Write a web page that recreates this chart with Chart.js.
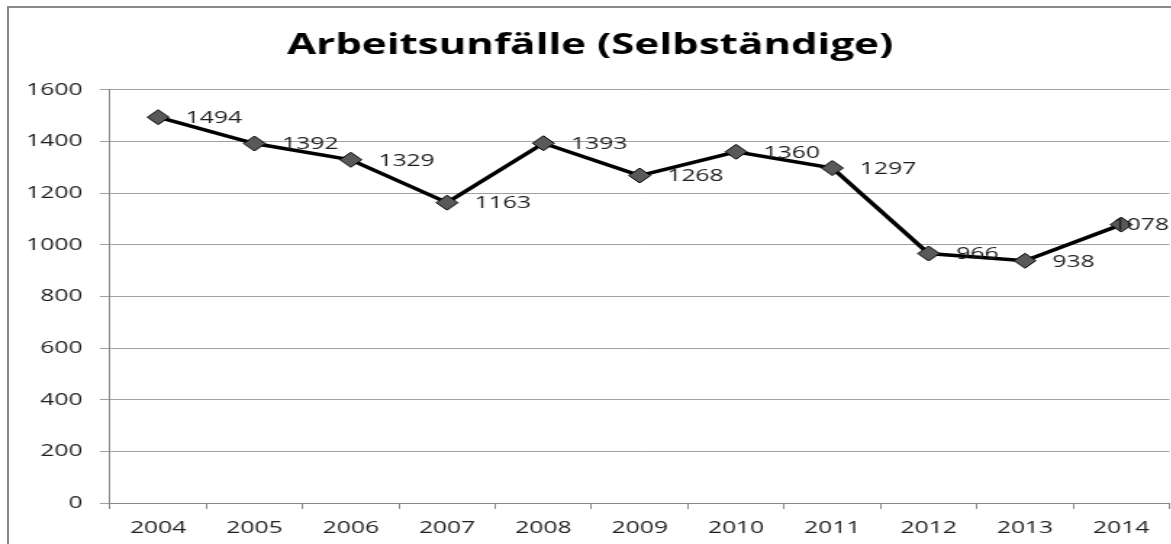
<!DOCTYPE html>
<html lang="de">
<head>
<meta charset="utf-8">
<title>Arbeitsunfälle (Selbständige)</title>
<script src="https://cdn.jsdelivr.net/npm/chart.js@4/dist/chart.umd.min.js"></script>
<style>
    html, body { margin: 0; padding: 0; background: #ffffff; }
    #viewport { position: relative; width: 1171px; height: 544px; overflow: hidden; }
    /* Rahmen des Diagrammobjekts (rechts und unten abgeschnitten) */
    #frame {
        position: absolute; left: 7px; top: 6px; width: 1300px; height: 700px;
        border-left: 2px solid #8a8a8a; border-top: 2px solid #8a8a8a;
    }
    /* Das Original ist horizontal gestreckt – wir strecken die ganze Zeichenfläche */
    #stretch {
        position: absolute; left: 0; top: 0; width: 815px; height: 544px;
        transform: scaleX(1.45); transform-origin: 0 0;
    }
</style>
</head>
<body>
<div id="viewport">
    <div id="frame"></div>
    <div id="stretch"><canvas id="chart-unfaelle"></canvas></div>
</div>
<script>
// ─────────────────────────────────────────────────────────────────────────────
// Daten
// ─────────────────────────────────────────────────────────────────────────────
const YEARS  = ['2004', '2005', '2006', '2007', '2008', '2009', '2010', '2011', '2012', '2013', '2014'];
const VALUES = [1494, 1392, 1329, 1163, 1393, 1268, 1360, 1297, 966, 938, 1078];
const Y_MIN  = 0;
const Y_MAX  = 1600;
const Y_STEP = 200;

const STRETCH     = 1.45;
const FONT        = '"Open Sans", "DejaVu Sans", sans-serif';
const TEXT_COLOR  = '#1e1e1e';
const GRID_COLOR  = '#a0a0a0';
const AXIS_COLOR  = '#8a8a8a';

// Plugin: Wertbeschriftung rechts neben jedem Punkt
const valueLabelsPlugin = {
    id: 'valueLabels',
    afterDatasetsDraw(chart) {
        const { ctx } = chart;
        const dataset = chart.data.datasets[0];
        const meta    = chart.getDatasetMeta(0);
        // sichtbarer rechter Rand (Viewport schneidet ab)
        const visibleRight = 1169 / STRETCH;

        ctx.save();
        ctx.font         = `17px ${FONT}`;
        ctx.textAlign    = 'left';
        ctx.textBaseline = 'middle';
        ctx.fillStyle    = TEXT_COLOR;

        meta.data.forEach((pt, i) => {
            const text = String(dataset.data[i]);
            const w    = ctx.measureText(text).width;
            let x = pt.x + 19;
            if (x + w > visibleRight) x = visibleRight - w;
            ctx.fillText(text, x, pt.y + 1);
        });

        ctx.restore();
    }
};

new Chart(document.getElementById('chart-unfaelle').getContext('2d'), {
    type: 'line',
    plugins: [valueLabelsPlugin],
    data: {
        labels: YEARS,
        datasets: [{
            data:                 VALUES,
            borderColor:          '#000000',
            borderWidth:          3.5,
            tension:              0,
            pointStyle:           'rectRot',
            pointRadius:          7.5,
            pointBackgroundColor: '#595959',
            pointBorderColor:     '#000000',
            pointBorderWidth:     1
        }]
    },
    options: {
        responsive:          true,
        maintainAspectRatio: false,
        animation:           false,
        layout: { padding: { left: 0, right: 1, top: 0, bottom: 0 } },
        plugins: {
            legend:  { display: false },
            tooltip: { enabled: false },
            title: {
                display: true,
                text:    'Arbeitsunfälle (Selbständige)',
                color:   '#000000',
                font:    { family: FONT, size: 29, weight: 'bold' },
                padding: { top: 28, bottom: 27 }
            }
        },
        scales: {
            x: {
                offset: true,
                grid: {
                    offset:          true,
                    drawOnChartArea: false,
                    drawTicks:       true,
                    tickLength:      6,
                    color:           AXIS_COLOR
                },
                border: { color: AXIS_COLOR, width: 1 },
                ticks:  { color: TEXT_COLOR, padding: 9, maxRotation: 0, font: { family: FONT, size: 17 } },
                afterFit(scale) { scale.height = 41; }
            },
            y: {
                min: Y_MIN,
                max: Y_MAX,
                grid: {
                    color:      GRID_COLOR,
                    drawTicks:  true,
                    tickLength: 7,
                    lineWidth:  1
                },
                border: { color: AXIS_COLOR, width: 1 },
                ticks:  {
                    stepSize: Y_STEP,
                    color:    TEXT_COLOR,
                    padding:  12,
                    font:     { family: FONT, size: 17 },
                    callback: v => String(v)
                },
                afterFit(scale) { scale.width = 110 / STRETCH; }
            }
        }
    }
});
</script>
</body>
</html>
